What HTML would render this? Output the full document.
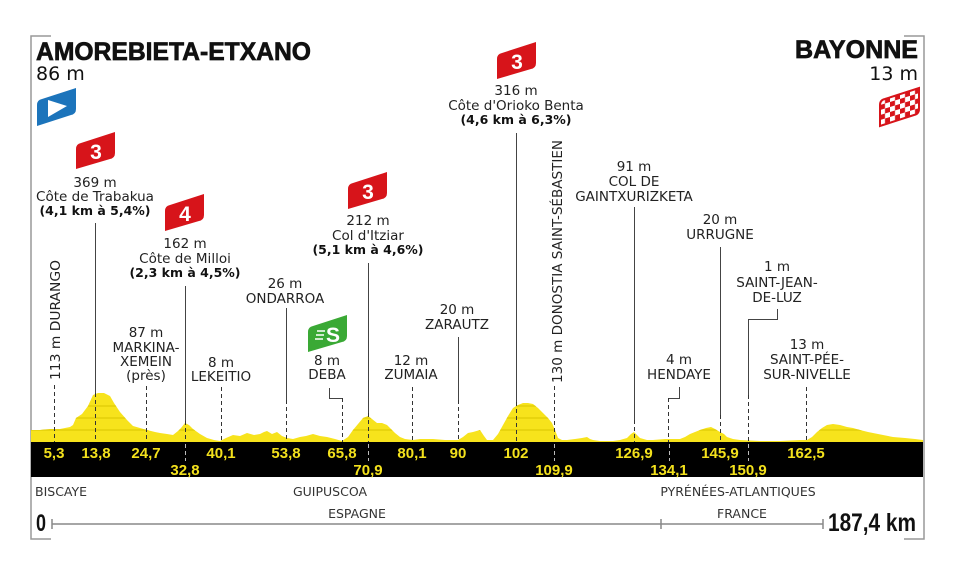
<!DOCTYPE html>
<html><head><meta charset="utf-8"><style>
html,body{margin:0;padding:0;background:#fff;}
svg{display:block;}
.l{font-family:"DejaVu Sans","Liberation Sans",sans-serif;font-size:13.5px;fill:#222;text-anchor:middle;}
.b{font-family:"DejaVu Sans","Liberation Sans",sans-serif;font-size:12.5px;font-weight:bold;fill:#111;text-anchor:middle;}
.k{font-family:"Liberation Sans",sans-serif;font-size:15px;font-weight:bold;fill:#f3e11c;text-anchor:middle;}
.r{font-family:"DejaVu Sans","Liberation Sans",sans-serif;font-size:12.5px;fill:#333;}
.n{font-family:"Liberation Sans",sans-serif;font-size:21px;font-weight:bold;fill:#fff;text-anchor:middle;}
</style></head><body>
<svg width="960" height="576" viewBox="0 0 960 576" xmlns="http://www.w3.org/2000/svg">
<defs>
<clipPath id="pc"><path id="prof" d="M31,442 L31,430 L40,430 L50,429 L60,429 L70,427 L73,425 L76,418 L82,414 L88,406 L93,395 L98,393 L104,393 L110,396 L114,403 L120,412 L127,420 L133,426 L140,428 L147,430 L155,432 L160,433 L167,434 L173,435 L178,431 L181,428 L185,423 L189,425 L193,429 L200,434 L207,438 L214,440 L220,441 L226,438 L233,435 L240,436 L247,433 L254,435 L260,434 L264,432 L267,431 L272,434 L277,432 L282,436 L287,438 L293,439 L300,437 L306,436 L313,434 L320,436 L327,437 L335,439 L342,441 L348,437 L353,430 L358,424 L363,418 L368,416 L372,419 L377,423 L382,423 L387,425 L391,429 L395,433 L400,437 L405,439 L413,440 L420,439 L433,439 L445,440 L458,440 L463,437 L468,433 L473,432 L480,430 L484,436 L487,440 L493,440 L498,434 L503,425 L508,416 L513,408 L518,405 L523,403 L528,403 L533,404 L538,408 L543,413 L548,418 L552,423 L555,430 L558,438 L562,440 L567,440 L575,439 L582,438 L587,437 L590,439 L593,440 L600,441 L613,441 L620,440 L627,438 L631,434 L634,432 L637,435 L640,438 L647,440 L653,440 L665,439 L680,439 L685,437 L690,434 L695,432 L700,430 L706,428 L711,427 L715,429 L720,432 L724,434 L727,437 L733,439 L740,440 L760,441 L780,441 L800,440 L807,440 L812,437 L817,432 L822,428 L827,425 L833,424 L840,425 L847,427 L853,428 L860,430 L868,432 L878,434 L893,437 L905,438 L915,439 L923,440 L923,442 Z"/></clipPath>
<pattern id="chk" x="0" y="0" width="10" height="10" patternUnits="userSpaceOnUse" patternTransform="translate(880,88) skewY(-17)">
<rect width="10" height="10" fill="#fff"/><rect width="5" height="5" fill="#d7141a"/><rect x="5" y="5" width="5" height="5" fill="#d7141a"/>
</pattern>
</defs>

<!-- frame -->
<path d="M51,36 H31 V539 H51" fill="none" stroke="#999" stroke-width="1.5"/>
<path d="M904,36 H924 V539 H904" fill="none" stroke="#999" stroke-width="1.5"/>

<!-- titles -->
<text x="36" y="60" font-family="Liberation Sans, sans-serif" font-size="25" font-weight="bold" fill="#111" stroke="#111" stroke-width="0.7" textLength="275" lengthAdjust="spacingAndGlyphs">AMOREBIETA-ETXANO</text>
<text x="36" y="80" font-family="DejaVu Sans, Liberation Sans, sans-serif" font-size="19" fill="#111">86 m</text>
<text x="918" y="58" font-family="Liberation Sans, sans-serif" font-size="25" font-weight="bold" fill="#111" stroke="#111" stroke-width="0.7" text-anchor="end" textLength="123" lengthAdjust="spacingAndGlyphs">BAYONNE</text>
<text x="918" y="80" font-family="DejaVu Sans, Liberation Sans, sans-serif" font-size="19" fill="#111" text-anchor="end">13 m</text>

<!-- start flag -->
<g transform="translate(37,88)">
<path d="M0,17 Q0,12 5,11 L39,0 L39,21 Q39,26 34,27 L0,38 Z" fill="#1c74bb"/>
<path d="M11,12 L30,18 L11,29 Z" fill="#fff"/>
</g>
<!-- finish flag -->
<g transform="translate(880,88)">
<path d="M0,17 Q0,12 5,11 L39,0 L39,21 Q39,26 34,27 L0,38 Z" fill="url(#chk)" stroke="#d7141a" stroke-width="2"/>
</g>

<!-- badges -->
<g transform="translate(76,132)"><path d="M0,17 Q0,12 5,11 L39,0 L39,21 Q39,26 34,27 L0,37 Z" fill="#d7141a"/><text class="n" x="20" y="27">3</text></g>
<g transform="translate(165,194)"><path d="M0,17 Q0,12 5,11 L39,0 L39,21 Q39,26 34,27 L0,37 Z" fill="#d7141a"/><text class="n" x="20" y="27">4</text></g>
<g transform="translate(348,172)"><path d="M0,17 Q0,12 5,11 L39,0 L39,21 Q39,26 34,27 L0,37 Z" fill="#d7141a"/><text class="n" x="20" y="27">3</text></g>
<g transform="translate(497,42)"><path d="M0,17 Q0,12 5,11 L39,0 L39,21 Q39,26 34,27 L0,37 Z" fill="#d7141a"/><text class="n" x="20" y="27">3</text></g>
<g transform="translate(308,315)"><path d="M0,17 Q0,12 5,11 L39,0 L39,21 Q39,26 34,27 L0,37 Z" fill="#3aa935"/>
<path d="M9,16 H17 M8,20 H16 M7,24 H15" stroke="#fff" stroke-width="1.5"/><text class="n" x="25" y="27">S</text></g>

<!-- label texts -->
<text class="l" x="95" y="187">369 m</text>
<text class="l" x="95" y="201">Côte de Trabakua</text>
<text class="b" x="95" y="215">(4,1 km à 5,4%)</text>

<text class="l" x="185" y="248">162 m</text>
<text class="l" x="185" y="263">Côte de Milloi</text>
<text class="b" x="185" y="277">(2,3 km à 4,5%)</text>

<text class="l" x="368" y="225">212 m</text>
<text class="l" x="368" y="240">Col d'Itziar</text>
<text class="b" x="368" y="254">(5,1 km à 4,6%)</text>

<text class="l" x="516" y="95">316 m</text>
<text class="l" x="516" y="110">Côte d'Orioko Benta</text>
<text class="b" x="516" y="124">(4,6 km à 6,3%)</text>

<text class="l" x="285" y="288">26 m</text>
<text class="l" x="285" y="303">ONDARROA</text>

<text class="l" x="146" y="337">87 m</text>
<text class="l" x="146" y="352">MARKINA-</text>
<text class="l" x="146" y="366">XEMEIN</text>
<text class="l" x="146" y="380">(près)</text>

<text class="l" x="221" y="367">8 m</text>
<text class="l" x="221" y="381">LEKEITIO</text>

<text class="l" x="327" y="365">8 m</text>
<text class="l" x="327" y="379">DEBA</text>

<text class="l" x="411" y="365">12 m</text>
<text class="l" x="411" y="379">ZUMAIA</text>

<text class="l" x="457" y="314">20 m</text>
<text class="l" x="457" y="329">ZARAUTZ</text>

<text class="l" x="634" y="171">91 m</text>
<text class="l" x="634" y="186">COL DE</text>
<text class="l" x="634" y="201">GAINTXURIZKETA</text>

<text class="l" x="720" y="224">20 m</text>
<text class="l" x="720" y="239">URRUGNE</text>

<text class="l" x="777" y="271">1 m</text>
<text class="l" x="777" y="287">SAINT-JEAN-</text>
<text class="l" x="777" y="302">DE-LUZ</text>

<text class="l" x="679" y="364">4 m</text>
<text class="l" x="679" y="379">HENDAYE</text>

<text class="l" x="807" y="349">13 m</text>
<text class="l" x="807" y="364">SAINT-PÉE-</text>
<text class="l" x="807" y="379">SUR-NIVELLE</text>

<text class="l" style="text-anchor:start" transform="translate(60,380) rotate(-90)" textLength="120" lengthAdjust="spacingAndGlyphs">113 m DURANGO</text>
<text class="l" style="text-anchor:start" transform="translate(562,383) rotate(-90)" textLength="243" lengthAdjust="spacingAndGlyphs">130 m DONOSTIA SAINT-SÉBASTIEN</text>

<!-- profile -->
<use href="#prof" fill="#f7e31c"/>
<g clip-path="url(#pc)" stroke="#d9c400" stroke-width="0.9">
<line x1="31" y1="406" x2="924" y2="406"/><line x1="31" y1="418" x2="924" y2="418"/><line x1="31" y1="430" x2="924" y2="430"/>
</g>

<!-- solid leader lines -->
<g stroke="#444" stroke-width="1" fill="none">
<line x1="95.5" y1="223" x2="95.5" y2="393"/>
<line x1="185.5" y1="286" x2="185.5" y2="421"/>
<line x1="286.5" y1="308" x2="286.5" y2="400"/>
<line x1="368.5" y1="263" x2="368.5" y2="413"/>
<line x1="458.5" y1="337" x2="458.5" y2="400"/>
<line x1="516.5" y1="133" x2="516.5" y2="402"/>
<line x1="634.5" y1="207" x2="634.5" y2="420"/>
<line x1="720.5" y1="247" x2="720.5" y2="415"/>
<path d="M777.5,309 V319.5 H748.5 V395"/>
<path d="M329.5,388 V398.5 H342.5"/>
<path d="M679.5,387 V398.5 H668.5"/>
</g>
<!-- dashed lines -->
<g stroke="#333" stroke-width="1" stroke-dasharray="4,3" fill="none">
<line x1="54.5" y1="385" x2="54.5" y2="442"/>
<line x1="95.5" y1="393" x2="95.5" y2="442"/>
<line x1="146.5" y1="386" x2="146.5" y2="442"/>
<line x1="185.5" y1="421" x2="185.5" y2="442"/>
<line x1="221.5" y1="387" x2="221.5" y2="442"/>
<line x1="286.5" y1="400" x2="286.5" y2="442"/>
<line x1="342.5" y1="398" x2="342.5" y2="442"/>
<line x1="368.5" y1="413" x2="368.5" y2="442"/>
<line x1="412.5" y1="387" x2="412.5" y2="442"/>
<line x1="458.5" y1="400" x2="458.5" y2="442"/>
<line x1="516.5" y1="402" x2="516.5" y2="442"/>
<line x1="554.5" y1="386" x2="554.5" y2="442"/>
<line x1="634.5" y1="420" x2="634.5" y2="442"/>
<line x1="668.5" y1="398" x2="668.5" y2="442"/>
<line x1="720.5" y1="415" x2="720.5" y2="442"/>
<line x1="748.5" y1="395" x2="748.5" y2="442"/>
<line x1="806.5" y1="387" x2="806.5" y2="442"/>
</g>

<!-- black band -->
<rect x="31" y="442" width="892" height="35" fill="#000"/>
<g stroke="#bbb" stroke-width="1" stroke-dasharray="4,3">
<line x1="185.5" y1="444" x2="185.5" y2="461"/>
<line x1="368.5" y1="444" x2="368.5" y2="461"/>
<line x1="554.5" y1="444" x2="554.5" y2="461"/>
<line x1="669.5" y1="444" x2="669.5" y2="461"/>
<line x1="748.5" y1="444" x2="748.5" y2="461"/>
</g>
<text class="k" x="54" y="458">5,3</text>
<text class="k" x="96" y="458">13,8</text>
<text class="k" x="146" y="458">24,7</text>
<text class="k" x="185" y="475">32,8</text>
<text class="k" x="221" y="458">40,1</text>
<text class="k" x="286" y="458">53,8</text>
<text class="k" x="342" y="458">65,8</text>
<text class="k" x="368" y="475">70,9</text>
<text class="k" x="412" y="458">80,1</text>
<text class="k" x="458" y="458">90</text>
<text class="k" x="516" y="458">102</text>
<text class="k" x="554" y="475">109,9</text>
<text class="k" x="634" y="458">126,9</text>
<text class="k" x="669" y="475">134,1</text>
<text class="k" x="720" y="458">145,9</text>
<text class="k" x="748" y="475">150,9</text>
<text class="k" x="806" y="458">162,5</text>

<!-- regions -->
<text class="r" x="35" y="496">BISCAYE</text>
<text class="r" x="330" y="496" text-anchor="middle">GUIPUSCOA</text>
<text class="r" x="738" y="496" text-anchor="middle">PYRÉNÉES-ATLANTIQUES</text>
<text class="r" x="357" y="518" text-anchor="middle">ESPAGNE</text>
<text class="r" x="742" y="518" text-anchor="middle">FRANCE</text>

<!-- axis -->
<g stroke="#888" stroke-width="1.5">
<line x1="52" y1="524" x2="823" y2="524"/>
<line x1="52" y1="519" x2="52" y2="529"/>
<line x1="661" y1="519" x2="661" y2="529"/>
<line x1="823" y1="519" x2="823" y2="529"/>
</g>
<text x="36" y="531" font-family="Liberation Sans, sans-serif" font-size="24" font-weight="bold" fill="#111" textLength="10" lengthAdjust="spacingAndGlyphs">0</text>
<text x="828" y="531" font-family="Liberation Sans, sans-serif" font-size="25" font-weight="bold" fill="#111" textLength="88" lengthAdjust="spacingAndGlyphs">187,4 km</text>
</svg>
</body></html>
